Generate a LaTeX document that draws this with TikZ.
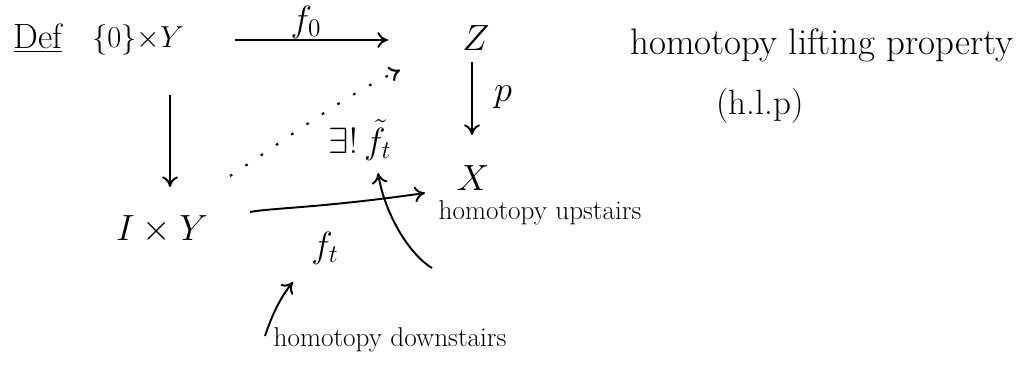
\documentclass[tikz,border=0pt]{standalone}
\usetikzlibrary{arrows.meta}
\begin{document}
\begin{tikzpicture}[x=0.02cm,y=-0.02cm,
  obj/.style={inner sep=1pt,font=\fontsize{22}{26}\selectfont},
  lbl/.style={inner sep=1pt,font=\fontsize{20}{24}\selectfont},
  note/.style={inner sep=1pt,font=\fontsize{15.5}{19}\selectfont},
  arr/.style={-{To[length=6pt,width=9pt]},line width=1.1pt},
  dotarr/.style={-{To[length=6pt,width=9pt]},line width=1.2pt,dash pattern=on 1.5pt off 9pt}]
\useasboundingbox (0,0) rectangle (1028,379);
\node[inner sep=1pt,font=\fontsize{20}{24}\selectfont] (def) at (38,38) {\underline{Def}};
\node[inner sep=1pt,font=\fontsize{19}{23}\selectfont] (src) at (138,40) {$\{0\}{\times}Y$};
\node[obj] (Z) at (476,38) {$Z$};
\node[obj] (X) at (473,178) {$X$};
\node[obj] (IY) at (162,230) {$I\times Y$};
\node[lbl] (lift) at (360,140) {$\exists!\,\tilde f_t$};
\node[lbl] (f0) at (306,22) {$f_0$};
\node[lbl] (p) at (503,97) {$p$};
\node[lbl] (ft) at (325,248) {$f_t$};
\node[inner sep=1pt,font=\fontsize{21}{25}\selectfont] (hlp) at (822,45) {homotopy lifting property};
\node[inner sep=1pt,font=\fontsize{20}{24}\selectfont] (hlpa) at (760,106) {(h.l.p)};
\node[note] (up) at (540,213) {homotopy upstairs};
\node[note] (down) at (390,340) {homotopy downstairs};
% connector end points
\coordinate (f0s) at (235,40);  \coordinate (f0e) at (388,40);
\coordinate (vs) at (170,95);   \coordinate (ve) at (170,187);
\coordinate (ps) at (472,62);   \coordinate (pe) at (472,135);
\coordinate (fts) at (250,212); \coordinate (fte) at (425,193);
\coordinate (ds) at (230,176);  \coordinate (de) at (400,70);
\coordinate (us) at (432,268);  \coordinate (ue) at (378,173);
\coordinate (dws) at (265,336); \coordinate (dwe) at (293,282);
\draw[arr] (f0s) -- (f0e);
\draw[arr] (vs) -- (ve);
\draw[arr] (ps) -- (pe);
\draw[arr] (fts) .. controls (270,208) and (320,208) .. (fte);
\draw[dotarr] (ds) .. controls (285,140) and (345,95) .. (de);
\draw[arr] (us) .. controls (410,255) and (385,215) .. (ue);
\draw[arr] (dws) .. controls (272,315) and (280,298) .. (dwe);
\end{tikzpicture}
\end{document}
